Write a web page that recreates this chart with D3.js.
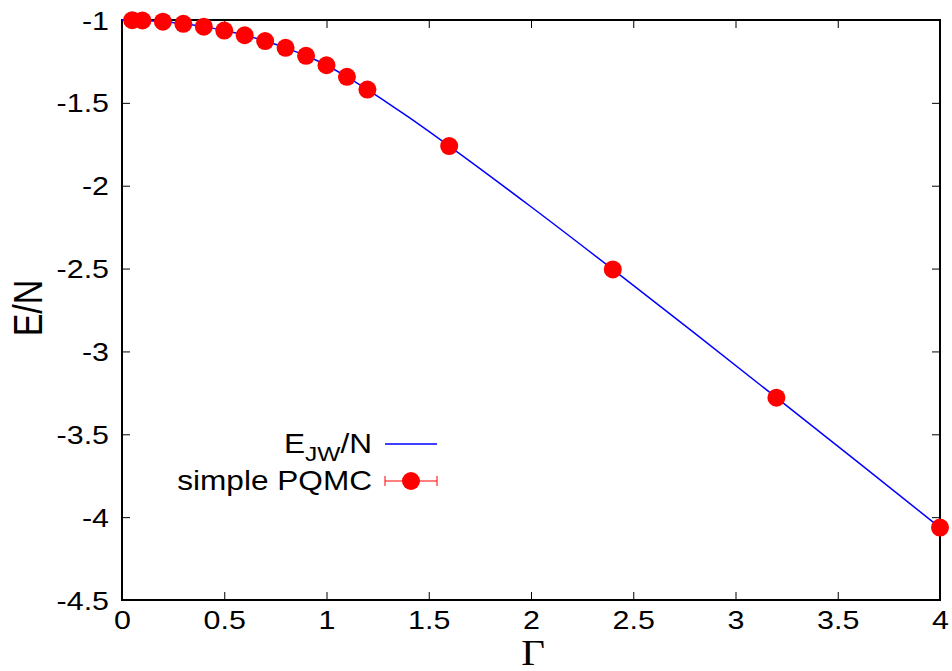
<!DOCTYPE html>
<html>
<head>
<meta charset="utf-8">
<script src="https://cdn.jsdelivr.net/npm/d3@7"></script>
<style>
  body { margin: 0; background: #fff; }
  svg text { font-family: "Liberation Sans", Arial, sans-serif; fill: #000; }
</style>
</head>
<body>
<div id="app"></div>
<script>
// transverse field values and energies
const gammaPts = [0.05, 0.1, 0.2, 0.3, 0.4, 0.5, 0.6, 0.7, 0.8, 0.9, 1.0, 1.1, 1.2, 1.6, 2.4, 3.2, 4.0];
const energyPts = [-1.001, -1.003, -1.010, -1.023, -1.040, -1.064, -1.092, -1.127, -1.168, -1.216, -1.273, -1.343, -1.420, -1.761, -2.505, -3.279, -4.063];

const gammaLine = [0, 0.1, 0.2, 0.3, 0.4, 0.5, 0.6, 0.7, 0.8, 0.9, 1.0, 1.1, 1.2, 1.3, 1.4, 1.6, 2.0, 2.4, 2.8, 3.2, 3.6, 4.0];
const energyLine = [-1.0, -1.003, -1.010, -1.023, -1.040, -1.064, -1.092, -1.127, -1.168, -1.216, -1.273, -1.343, -1.420, -1.501, -1.585, -1.761, -2.127, -2.505, -2.890, -3.279, -3.670, -4.063];

const xTicks = [0, 0.5, 1, 1.5, 2, 2.5, 3, 3.5, 4];
const yTicks = [-1, -1.5, -2, -2.5, -3, -3.5, -4, -4.5];

const W = 952, H = 671;
const mLeft = 122, mRight = 940, mTop = 20, mBottom = 600;
const SX = 1.17; // glyphs in the picture are a bit wider than Liberation Sans

const svg = d3.select("#app").append("svg")
    .attr("width", W)
    .attr("height", H);

const x = d3.scaleLinear([0, 4], [mLeft, mRight]);
const y = d3.scaleLinear([-4.5, -1], [mBottom, mTop]);

// axes, ticks pointing inward on all four sides
const gx = svg.append("g").attr("transform", `translate(0,${mBottom})`)
    .call(d3.axisBottom(x).tickValues(xTicks).tickSizeInner(-8).tickSizeOuter(0).tickFormat(d => String(d)));
const gy = svg.append("g").attr("transform", `translate(${mLeft},0)`)
    .call(d3.axisLeft(y).tickValues(yTicks).tickSizeInner(-8).tickSizeOuter(0).tickFormat(d => String(d)));
svg.append("g").attr("transform", `translate(0,${mTop})`)
    .call(d3.axisTop(x).tickValues(xTicks).tickSizeInner(-8).tickSizeOuter(0).tickFormat(""));
svg.append("g").attr("transform", `translate(${mRight},0)`)
    .call(d3.axisRight(y).tickValues(yTicks).tickSizeInner(-8).tickSizeOuter(0).tickFormat(""));

svg.selectAll(".domain").remove();
svg.selectAll(".tick line").attr("stroke", "#000").attr("stroke-width", 1);

gx.selectAll(".tick text")
    .attr("x", null).attr("y", null).attr("dy", null)
    .attr("font-size", 26)
    .attr("text-anchor", "middle")
    .attr("transform", `translate(0,29) scale(${SX},1)`);
gy.selectAll(".tick text")
    .attr("x", null).attr("y", null).attr("dy", null)
    .attr("font-size", 26)
    .attr("text-anchor", "end")
    .attr("transform", `translate(-13,9) scale(${SX},1)`);

// frame
svg.append("rect")
    .attr("x", mLeft).attr("y", mTop)
    .attr("width", mRight - mLeft).attr("height", mBottom - mTop)
    .attr("fill", "none").attr("stroke", "#000").attr("stroke-width", 2);

// exact curve
const lineData = gammaLine.map((g, i) => [g, energyLine[i]]);
svg.append("path")
    .datum(lineData)
    .attr("d", d3.line().x(d => x(d[0])).y(d => y(d[1])).curve(d3.curveMonotoneX))
    .attr("fill", "none")
    .attr("stroke", "#0000ff")
    .attr("stroke-width", 1.5);

// PQMC points
svg.append("g").selectAll("circle")
    .data(gammaPts.map((g, i) => [g, energyPts[i]]))
    .join("circle")
    .attr("cx", d => x(d[0]))
    .attr("cy", d => y(d[1]))
    .attr("r", 9)
    .attr("fill", "#ff0000");

// legend
const leg = svg.append("g");
const t1 = leg.append("text")
    .attr("font-size", 27)
    .attr("text-anchor", "end")
    .attr("transform", `translate(372,453) scale(${SX},1)`);
t1.append("tspan").text("E");
t1.append("tspan").attr("font-size", 21).attr("dy", 8).text("JW");
t1.append("tspan").attr("dy", -8).text("/N");
leg.append("line")
    .attr("x1", 385).attr("x2", 437).attr("y1", 444).attr("y2", 444)
    .attr("stroke", "#0000ff").attr("stroke-width", 1.5);

leg.append("text")
    .attr("font-size", 27)
    .attr("text-anchor", "end")
    .attr("transform", `translate(372,490) scale(${SX},1)`)
    .text("simple PQMC");
leg.append("path")
    .attr("d", "M385,481H437M385,476V486M437,476V486")
    .attr("stroke", "#ff0000").attr("stroke-width", 1).attr("fill", "none");
leg.append("circle").attr("cx", 411).attr("cy", 481).attr("r", 9).attr("fill", "#ff0000");

// axis labels
svg.append("text")
    .attr("font-size", 34)
    .attr("text-anchor", "middle")
    .attr("transform", `translate(42,308) scale(${SX},1) rotate(-90)`)
    .text("E/N");
svg.append("text")
    .attr("font-size", 35)
    .attr("text-anchor", "middle")
    .style("font-family", "'Liberation Serif', 'Times New Roman', serif")
    .attr("transform", `translate(533,665) scale(${SX},1)`)
    .text("Γ");
</script>
</body>
</html>
